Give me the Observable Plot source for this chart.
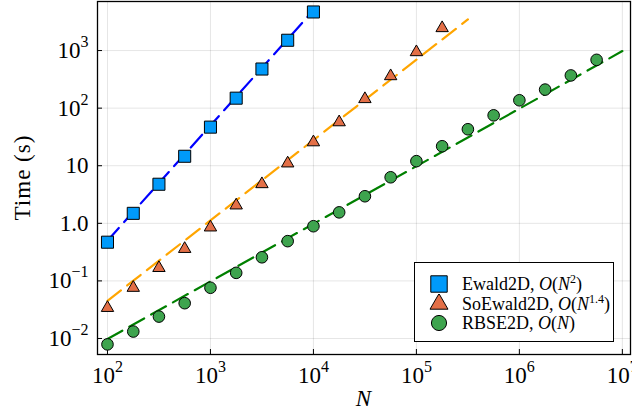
<!DOCTYPE html>
<html><head><meta charset="utf-8">
<script src="https://cdn.jsdelivr.net/npm/d3@7"></script>
<script src="https://cdn.jsdelivr.net/npm/@observablehq/plot@0.6"></script>
<style>
body{margin:0;background:#fff;}
#wrap{position:relative;width:632px;height:414px;font-family:"Liberation Serif",serif;}
#legend{position:absolute;left:414px;top:262px;width:200px;height:80px;border:1.3px solid #000;background:#fff;box-sizing:border-box;font-size:18px;color:#000;font-family:"Liberation Serif",serif;}
#legend .row{position:absolute;left:0;height:20px;width:100%;}
#legend svg{position:absolute;left:14px;top:0;}
#legend span{position:absolute;left:47px;top:0;line-height:20px;white-space:nowrap;}
#legend sup{font-size:12px;vertical-align:7px;line-height:0;}
</style></head><body><div id="wrap"></div>
<script>
// Ewald2D
const nEwald = [100, 178, 316, 562, 1000, 1778, 3162, 5623, 10000];
const tEwald = [0.47, 1.49, 4.77, 14.6, 46.8, 149, 478, 1510, 4680];
// SoEwald2D
const nSo = [100, 178, 316, 562, 1000, 1778, 3162, 5623, 10000, 17783, 31623, 56234, 100000, 177828];
const tSo = [0.034, 0.076, 0.168, 0.36, 0.85, 2.05, 4.8, 11, 25.6, 57, 144, 360, 940, 2460];
// RBSE2D
const nRb = [100, 178, 316, 562, 1000, 1778, 3162, 5623, 10000, 17783, 31623, 56234, 100000, 177828, 316228, 562341, 1000000, 1778279, 3162278, 5623413];
const tRb = [0.0079, 0.0132, 0.024, 0.041, 0.076, 0.138, 0.257, 0.49, 0.89, 1.55, 2.95, 6.3, 12, 21.8, 43, 75, 137, 210, 370, 690];
// reference scaling lines (end points)
const fitEwaldN = [100, 10000], fitEwaldT = [0.5, 5000];
const fitSoN = [100, 316228], fitSoT = [0.045, 3470];
const fitRbN = [100, 10000000], fitRbT = [0.0098, 980];
// ticks
const xTicks = [1e2, 1e3, 1e4, 1e5, 1e6, 1e7];
const yTicks = [0.01, 0.1, 1, 10, 100, 1000];

const zip = (a, b) => a.map((v, i) => ({n: v, t: b[i]}));
const fmt = d => d === 1 ? "1.0" : d === 10 ? "10" : "10^" + Math.round(Math.log10(d));

const W = 632, H = 414, mL = 97, mR = 2, mT = 1, mB = 60;
const dash = "17,8";

const chart = Plot.plot({
  width: W, height: H,
  marginLeft: mL, marginRight: mR, marginTop: mT, marginBottom: mB,
  style: {fontFamily: "Liberation Serif, serif", fontSize: "23px", background: "white", color: "#000"},
  x: {type: "log", domain: [80, 1.2e7]},
  y: {type: "log", domain: [0.00527, 7112]},
  marks: [
    Plot.gridX(xTicks, {stroke: "#000", strokeOpacity: 0.1, strokeWidth: 1}),
    Plot.gridY(yTicks, {stroke: "#000", strokeOpacity: 0.1, strokeWidth: 1}),
    Plot.axisX(xTicks, {tickFormat: fmt, tickSize: 0, tickPadding: 12, label: null, fontSize: 23}),
    Plot.axisY(yTicks, {tickFormat: fmt, tickSize: 0, tickPadding: 9, label: null, fontSize: 23}),
    Plot.ruleX(xTicks, {stroke: "#000", strokeWidth: 1, insetTop: H - mT - mB - 5}),
    Plot.ruleY(yTicks, {stroke: "#000", strokeWidth: 1, insetRight: W - mL - mR - 5}),
    Plot.line(zip(fitEwaldN, fitEwaldT), {x: "n", y: "t", stroke: "blue", strokeWidth: 2.2, strokeDasharray: dash}),
    Plot.line(zip(fitSoN, fitSoT), {x: "n", y: "t", stroke: "orange", strokeWidth: 2.2, strokeDasharray: dash}),
    Plot.line(zip(fitRbN, fitRbT), {x: "n", y: "t", stroke: "green", strokeWidth: 2.2, strokeDasharray: dash}),
    Plot.dot(zip(nEwald, tEwald), {x: "n", y: "t", symbol: "square", r: 6.8, fill: "#009AFA", stroke: "#000", strokeWidth: 1}),
    Plot.dot(zip(nSo, tSo), {x: "n", y: "t", symbol: "triangle", r: 4.6, fill: "#E36F47", stroke: "#000", strokeWidth: 1}),
    Plot.dot(zip(nRb, tRb), {x: "n", y: "t", symbol: "circle", r: 5.8, fill: "#3EA44E", stroke: "#000", strokeWidth: 1}),
    Plot.frame({stroke: "#000", strokeWidth: 1.3})
  ]
});

const wrap = document.getElementById("wrap");
wrap.appendChild(chart);
const svg = d3.select(chart);

// superscripts on tick labels
svg.selectAll("text").each(function() {
  const el = d3.select(this);
  const s = el.text();
  const m = s.match(/^10\^(-?\d+)$/);
  if (m) {
    el.text("10");
    el.append("tspan").attr("font-size", 16).attr("dy", "-0.68em").text(m[1].replace("-", "\u2212"));
  }
});

// axis labels
svg.append("text").attr("x", (mL + W - mR) / 2).attr("y", 406)
  .attr("text-anchor", "middle").attr("font-size", 23).attr("font-style", "italic")
  .attr("font-family", "Liberation Serif, serif").text("N");
svg.append("text").attr("transform", `translate(30,${(mT + H - mB) / 2}) rotate(-90)`)
  .attr("text-anchor", "middle").attr("font-size", 23).attr("letter-spacing", "1px")
  .attr("font-family", "Liberation Serif, serif").text("Time (s)");

// legend
const legend = document.createElement("div");
legend.id = "legend";
const items = [
  {sym: "square", fill: "#009AFA", html: "Ewald2D, <i>O</i>(<i>N</i><sup>2</sup>)"},
  {sym: "triangle", fill: "#E36F47", html: "SoEwald2D, <i>O</i>(<i>N</i><sup>1.4</sup>)"},
  {sym: "circle", fill: "#3EA44E", html: "RBSE2D, <i>O</i>(<i>N</i>)"}
];
const symPath = {
  square: d3.symbol(d3.symbolSquare, 270)(),
  triangle: d3.symbol(d3.symbolTriangle, 140)(),
  circle: d3.symbol(d3.symbolCircle, 180)()
};
items.forEach((it, i) => {
  const row = document.createElement("div");
  row.className = "row";
  row.style.top = (11 + i * 19.5) + "px";
  row.innerHTML = `<svg width="20" height="20" viewBox="-10 -10 20 20"><path d="${symPath[it.sym]}" fill="${it.fill}" stroke="#000" stroke-width="1"/></svg><span>${it.html}</span>`;
  legend.appendChild(row);
});
wrap.appendChild(legend);
</script>
</body></html>
